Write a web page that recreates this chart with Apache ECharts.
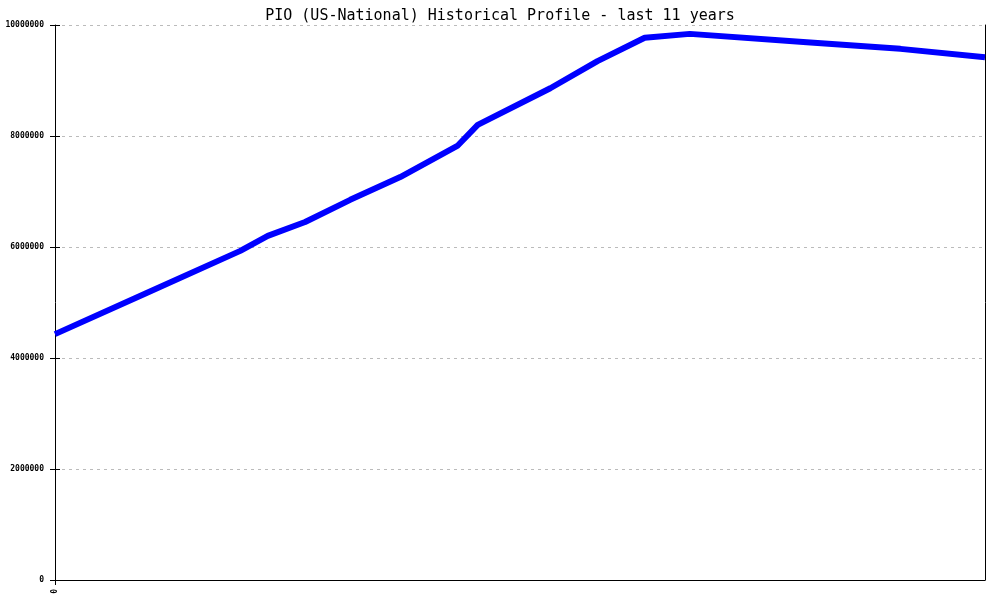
<!DOCTYPE html>
<html><head><meta charset="utf-8">
<script src="https://cdn.jsdelivr.net/npm/echarts@6/dist/echarts.min.js"></script>
<style>html,body{margin:0;padding:0;background:#fff}#c{width:1000px;height:600px}</style>
</head><body><div id="c"></div>
<script>
var months = [0, 13, 26.3, 30.2, 35.5, 41.9, 49, 57.1, 60.0, 70.3, 77, 83.7, 90.1, 106.7, 120, 132];
var values = [4430000, 5170000, 5930000, 6200000, 6450000, 6850000, 7260000, 7820000, 8200000, 8860000, 9350000, 9770000, 9840000, 9690000, 9570000, 9420000];
var yTicks = [0, 2000000, 4000000, 6000000, 8000000, 10000000];
var title = 'PIO (US-National) Historical Profile - last 11 years';

var data = months.map(function (m, i) { return [m, values[i]]; });
var chart = echarts.init(document.getElementById('c'));
chart.setOption({
  animation: false,
  title: { text: title, left: 'center', top: 4,
    textStyle: { fontFamily: 'DejaVu Sans Mono', fontSize: 15, fontWeight: 'normal', color: '#000' } },
  grid: { left: 55, right: 15, top: 25, bottom: 20, containLabel: false },
  xAxis: { type: 'value', min: 0, max: 132, interval: 132,
    axisLine: { show: true, lineStyle: { color: '#000', width: 1 } },
    axisTick: { show: true, length: 5, lineStyle: { color: '#000' } },
    splitLine: { show: false },
    axisLabel: { rotate: 90, fontFamily: 'DejaVu Sans Mono', fontSize: 8, fontWeight: 'bold', color: '#000', margin: 9,
      showMaxLabel: false, formatter: function (v) { return v === 0 ? '0' : ''; } } },
  yAxis: [{ type: 'value', min: 0, max: 10000000, interval: 2000000,
    axisLine: { show: true, lineStyle: { color: '#000', width: 1 } },
    axisTick: { show: true, length: 5, lineStyle: { color: '#000' } },
    splitLine: { show: true, lineStyle: { color: '#bbb', type: [3, 4], width: 1 } },
    axisLabel: { fontFamily: 'DejaVu Sans Mono', fontSize: 8, fontWeight: 'bold', color: '#000', margin: 11,
      formatter: function (v) { return yTicks.indexOf(v) >= 0 ? String(v) : ''; } } },
    { type: 'value', position: 'right', min: 0, max: 10000000, interval: 2000000,
    axisLine: { show: true, lineStyle: { color: '#000', width: 1 } },
    axisTick: { show: false }, axisLabel: { show: false }, splitLine: { show: false } },
    { type: 'value', position: 'left', min: 0, max: 10000000, interval: 2000000,
    axisLine: { show: false },
    axisTick: { show: true, inside: true, length: 5, lineStyle: { color: '#000' } },
    axisLabel: { show: false }, splitLine: { show: false } }],
  series: [{ type: 'line', data: data, showSymbol: false, smooth: false,
    lineStyle: { color: '#0000ff', width: 6, join: 'round', cap: 'butt' } }]
});
</script></body></html>
